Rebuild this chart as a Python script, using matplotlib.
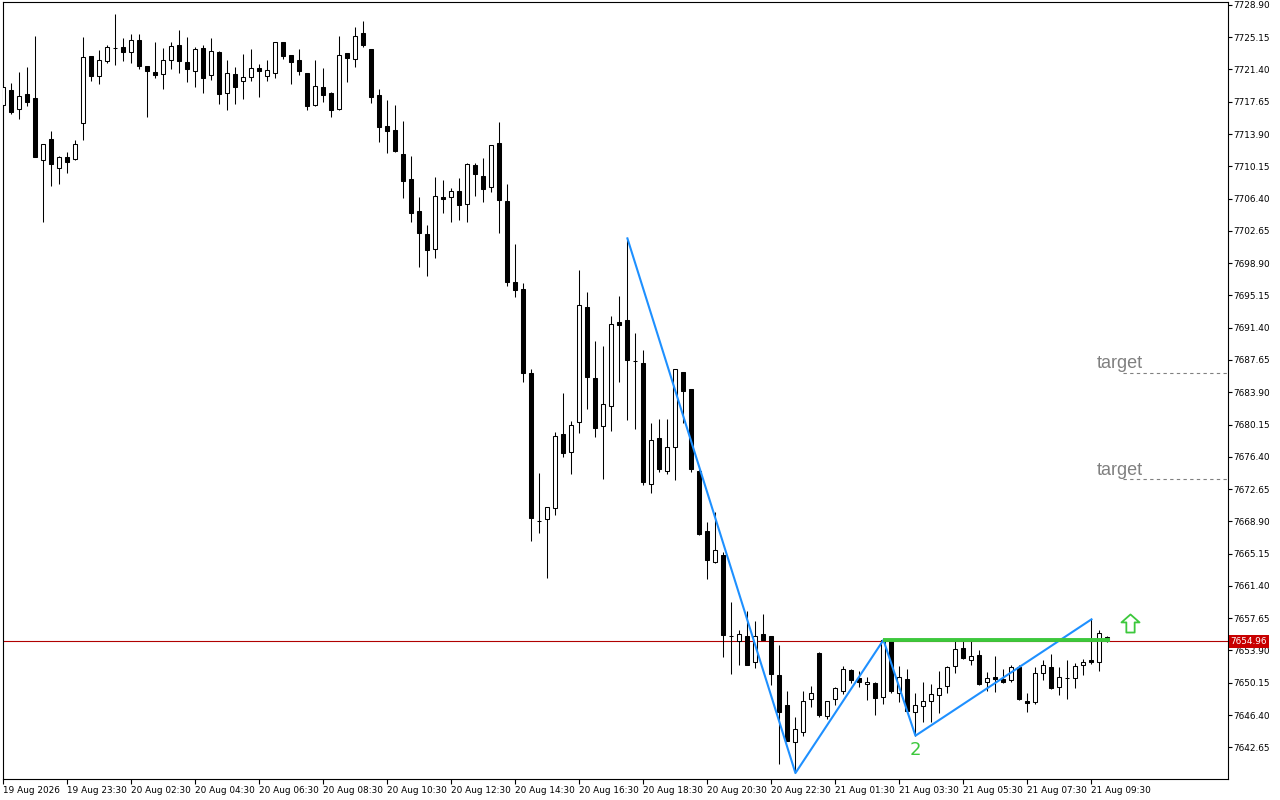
import numpy as np
import matplotlib
matplotlib.use("Agg")
import matplotlib.pyplot as plt
import matplotlib.transforms as mtransforms
from matplotlib.path import Path

# M15 candles
open_ = [7717.24, 7719.01, 7716.77, 7718.51, 7718.05, 7710.85, 7713.29, 7709.92, 7711.19, 7710.96,
         7715.14, 7722.96, 7720.68, 7722.42, 7723.90, 7723.97, 7723.39, 7724.79, 7721.80, 7721.10,
         7720.84, 7722.46, 7724.24, 7722.27, 7721.26, 7723.86, 7720.72, 7723.43, 7718.63, 7720.84,
         7720.02, 7720.56, 7721.54, 7720.60, 7720.95, 7724.56, 7723.05, 7722.46, 7720.95, 7717.31,
         7719.33, 7718.63, 7716.84, 7723.28, 7722.58, 7725.60, 7723.74, 7718.40, 7714.80, 7714.33,
         7711.58, 7708.67, 7704.96, 7702.28, 7700.51, 7706.55, 7706.55, 7707.28, 7705.73, 7710.30,
         7708.99, 7707.71, 7712.82, 7706.12, 7696.67, 7695.86, 7686.10, 7669.00, 7669.14, 7670.42,
         7679.05, 7676.99, 7680.48, 7693.77, 7685.52, 7680.01, 7682.27, 7692.02, 7692.29, 7687.50,
         7687.30, 7673.20, 7678.55, 7674.71, 7677.50, 7686.22, 7684.24, 7674.79, 7667.74, 7664.21,
         7664.96, 7655.58, 7654.97, 7655.58, 7652.52, 7655.81, 7655.58, 7651.05, 7647.56, 7643.23,
         7644.39, 7648.23, 7653.60, 7646.32, 7648.23, 7649.15, 7651.59, 7650.67, 7649.97, 7650.09,
         7648.45, 7655.12, 7648.92, 7650.55, 7646.79, 7647.48, 7647.99, 7648.69, 7649.74, 7652.06,
         7654.15, 7652.76, 7653.34, 7650.20, 7650.78, 7650.55, 7650.43, 7651.94, 7647.99, 7647.87,
         7651.25, 7651.94, 7649.62, 7650.70, 7650.67, 7652.17, 7652.76, 7652.52, 7655.50]
high = [7719.40, 7719.79, 7721.10, 7721.69, 7725.32, 7712.75, 7714.25, 7711.38, 7711.78, 7713.20,
        7725.17, 7723.00, 7723.66, 7724.24, 7727.84, 7725.06, 7725.56, 7725.56, 7721.85, 7724.59,
        7723.89, 7724.59, 7725.98, 7725.17, 7724.01, 7724.24, 7725.06, 7723.55, 7722.46, 7721.69,
        7723.20, 7723.78, 7722.03, 7722.50, 7724.60, 7724.60, 7723.10, 7723.78, 7721.00, 7722.46,
        7721.54, 7718.75, 7725.29, 7723.30, 7726.30, 7727.03, 7723.80, 7719.10, 7717.85, 7717.27,
        7715.41, 7711.35, 7706.58, 7703.33, 7708.91, 7708.56, 7707.59, 7708.75, 7710.53, 7710.53,
        7711.11, 7712.60, 7715.30, 7708.09, 7701.12, 7696.56, 7686.60, 7674.48, 7670.60, 7679.28,
        7683.81, 7680.56, 7698.10, 7695.55, 7689.82, 7689.27, 7692.72, 7695.08, 7701.78, 7690.78,
        7688.81, 7680.33, 7680.79, 7680.79, 7686.60, 7686.25, 7684.30, 7674.95, 7668.79, 7669.95,
        7665.30, 7659.53, 7656.28, 7658.48, 7657.32, 7658.14, 7655.60, 7654.54, 7649.19, 7646.17,
        7649.19, 7649.77, 7653.70, 7648.00, 7649.70, 7652.06, 7651.70, 7651.48, 7650.85, 7650.20,
        7655.15, 7655.15, 7652.06, 7651.71, 7648.92, 7650.24, 7649.97, 7651.51, 7652.06, 7654.97,
        7654.97, 7654.97, 7653.92, 7651.37, 7653.22, 7651.71, 7652.17, 7652.17, 7648.92, 7651.94,
        7652.76, 7653.45, 7651.94, 7652.76, 7652.41, 7652.87, 7657.52, 7656.24, 7655.55]
low = [7717.00, 7716.26, 7715.68, 7717.15, 7711.20, 7703.71, 7707.90, 7708.13, 7709.41, 7710.90,
       7713.20, 7720.10, 7719.71, 7722.19, 7721.95, 7722.42, 7722.19, 7721.49, 7715.91, 7720.41,
       7719.16, 7721.49, 7720.95, 7719.98, 7719.40, 7718.70, 7720.21, 7717.42, 7716.73, 7717.42,
       7718.00, 7720.06, 7718.24, 7720.09, 7720.44, 7722.65, 7719.75, 7720.72, 7716.73, 7717.19,
       7717.65, 7715.91, 7716.73, 7719.98, 7721.72, 7724.05, 7717.54, 7713.00, 7711.73, 7711.85,
       7706.50, 7703.71, 7698.48, 7697.44, 7699.53, 7704.76, 7703.71, 7703.95, 7703.71, 7706.73,
       7706.04, 7707.20, 7702.43, 7696.28, 7694.99, 7685.12, 7666.65, 7667.58, 7662.28, 7669.67,
       7676.41, 7674.44, 7679.20, 7681.99, 7678.73, 7673.85, 7679.43, 7685.09, 7680.71, 7679.63,
       7673.16, 7672.23, 7674.67, 7674.44, 7673.74, 7680.29, 7674.67, 7667.28, 7662.24, 7664.03,
       7653.17, 7651.20, 7652.25, 7652.20, 7651.90, 7655.10, 7649.92, 7640.74, 7643.40, 7639.66,
       7643.93, 7647.37, 7646.20, 7645.97, 7647.53, 7648.87, 7650.15, 7649.69, 7648.18, 7646.44,
       7647.71, 7649.00, 7647.94, 7646.85, 7644.00, 7645.62, 7645.62, 7646.67, 7648.92, 7651.25,
       7652.95, 7652.17, 7649.92, 7649.15, 7649.11, 7650.09, 7650.20, 7648.20, 7646.71, 7647.64,
       7650.43, 7649.45, 7648.69, 7648.23, 7649.50, 7651.02, 7652.29, 7651.48, 7654.85]
close = [7719.33, 7716.49, 7718.28, 7717.65, 7711.26, 7712.70, 7710.45, 7711.19, 7710.65, 7712.70,
         7722.81, 7720.68, 7722.46, 7723.97, 7723.95, 7723.46, 7724.79, 7721.84, 7721.26, 7720.79,
         7722.46, 7724.09, 7722.42, 7721.49, 7723.74, 7720.44, 7723.51, 7718.58, 7720.95, 7719.40,
         7720.49, 7721.54, 7721.19, 7721.30, 7724.56, 7723.00, 7722.30, 7721.26, 7717.19, 7719.44,
         7718.47, 7716.73, 7723.05, 7722.77, 7725.25, 7724.28, 7718.24, 7714.75, 7714.29, 7711.93,
         7708.48, 7704.76, 7702.43, 7700.46, 7706.66, 7706.31, 7707.28, 7705.69, 7710.42, 7709.29,
         7707.55, 7712.59, 7706.20, 7696.74, 7695.74, 7686.17, 7669.25, 7668.97, 7670.53, 7678.82,
         7676.81, 7680.06, 7694.00, 7685.71, 7679.78, 7682.50, 7691.79, 7691.75, 7687.68, 7687.48,
         7673.51, 7678.32, 7675.02, 7677.50, 7686.56, 7684.08, 7675.02, 7667.47, 7664.45, 7665.54,
         7655.73, 7655.55, 7655.81, 7652.25, 7655.54, 7655.15, 7651.20, 7646.71, 7643.41, 7644.74,
         7647.99, 7648.92, 7646.44, 7647.99, 7649.50, 7651.71, 7650.50, 7650.20, 7650.24, 7648.41,
         7655.12, 7649.15, 7650.78, 7646.90, 7647.53, 7647.99, 7648.80, 7649.50, 7651.94, 7654.03,
         7652.99, 7653.22, 7650.04, 7650.67, 7650.62, 7650.20, 7651.94, 7648.23, 7647.76, 7651.25,
         7652.17, 7649.50, 7650.78, 7650.75, 7652.06, 7652.52, 7652.52, 7655.89, 7654.96]

time_labels = ['19 Aug 2026', '19 Aug 23:30', '20 Aug 02:30', '20 Aug 04:30', '20 Aug 06:30',
               '20 Aug 08:30', '20 Aug 10:30', '20 Aug 12:30', '20 Aug 14:30', '20 Aug 16:30',
               '20 Aug 18:30', '20 Aug 20:30', '20 Aug 22:30', '21 Aug 01:30', '21 Aug 03:30',
               '21 Aug 05:30', '21 Aug 07:30', '21 Aug 09:30']
label_step = 8

# zigzag pattern points (bar index, price)
zz_bars = [78, 99, 110, 114, 136]
zz_prices = [7701.78, 7639.66, 7655.12, 7644.00, 7657.52]
neck_bar = 110
neck_price = 7655.15
point2_bar = 114
targets = [7686.17, 7673.78]
target_start = 140
target_text_bar = 136.7
signal_bar = 140.8
signal_price = 7657.1
last_price = 7654.96

price_ticks = np.arange(7642.65, 7729.0, 3.75)

o = np.array(open_)
h = np.array(high)
l = np.array(low)
c = np.array(close)
n = len(c)
idx = np.arange(n)

fig = plt.figure(figsize=(12.8, 8), dpi=100)
ax = fig.add_axes([2.5 / 1280, 21 / 800, 1225 / 1280, 777 / 800])

# wicks
ax.vlines(idx, l, h, color='black', linewidth=0.75, zorder=2)
# bodies
up = c >= o
body_lo = np.minimum(o, c)
body_h = np.abs(c - o)
ax.bar(idx, body_h, bottom=body_lo, width=0.5,
       color=np.where(up, 'white', 'black'), edgecolor='black', linewidth=0.75, zorder=3)

# current price line
ax.axhline(last_price, color='#B00000', linewidth=0.8, zorder=1)

# zigzag + neckline
ax.plot(zz_bars, zz_prices, color='#1E90FF', linewidth=1.5, zorder=4)
ax.plot([neck_bar, n - 1 + 0.3], [neck_price, neck_price], color='#3CC83C',
        linewidth=2.8, solid_capstyle='butt', zorder=5)
ax.annotate('2', xy=(point2_bar, zz_prices[3]), xytext=(0, -10), textcoords='offset points',
            ha='center', va='center', fontsize=13, color='#3CC83C')

# hollow up arrow (buy signal)
arrow = Path([(0, 1), (-1, 0.12), (-0.46, 0.12), (-0.46, -1), (0.46, -1),
              (0.46, 0.12), (1, 0.12), (0, 1)], closed=True)
ax.plot([signal_bar], [signal_price], marker=arrow, markersize=13, markerfacecolor='white',
        markeredgecolor='#3CC83C', markeredgewidth=1.3, linestyle='none', zorder=6)

# targets
for t in targets:
    ax.plot([target_start, 160], [t, t], color='#808080', linewidth=0.8,
            linestyle=(0, (3, 3)), zorder=2)
    ax.text(target_text_bar, t + 0.55, 'target', fontsize=13, color='#808080',
            family='Liberation Sans', ha='left', va='baseline')

ax.set_xlim(-0.1, 153.0)
ax.set_ylim(7638.97, 7729.24)

# axes styling
for s in ax.spines.values():
    s.set_linewidth(0.8)
    s.set_color('black')
ax.yaxis.tick_right()
ax.set_yticks(price_ticks)
ax.set_yticklabels(['%.2f' % p for p in price_ticks])
ax.set_xticks(np.arange(0, n, label_step)[:len(time_labels)])
ax.set_xticklabels(time_labels, ha='left')
ax.tick_params(axis='y', direction='out', length=3, width=0.8, pad=1, labelsize=6.4)
ax.tick_params(axis='x', direction='out', length=3.5, width=0.8, pad=1.5, labelsize=6.4)
for lab in ax.get_xticklabels():
    lab.set_horizontalalignment('left')

# price tag on the axis
trans = mtransforms.blended_transform_factory(ax.transAxes, ax.transData)
ax.text(1.0 + 3 / 1225, last_price, '%.2f' % last_price, transform=trans, color='white',
        fontsize=6.4, ha='left', va='center', zorder=10, clip_on=False,
        bbox=dict(boxstyle='square,pad=0.2', fc='#C80000', ec='none'))

fig.savefig('out.png', dpi=100, facecolor='white')
